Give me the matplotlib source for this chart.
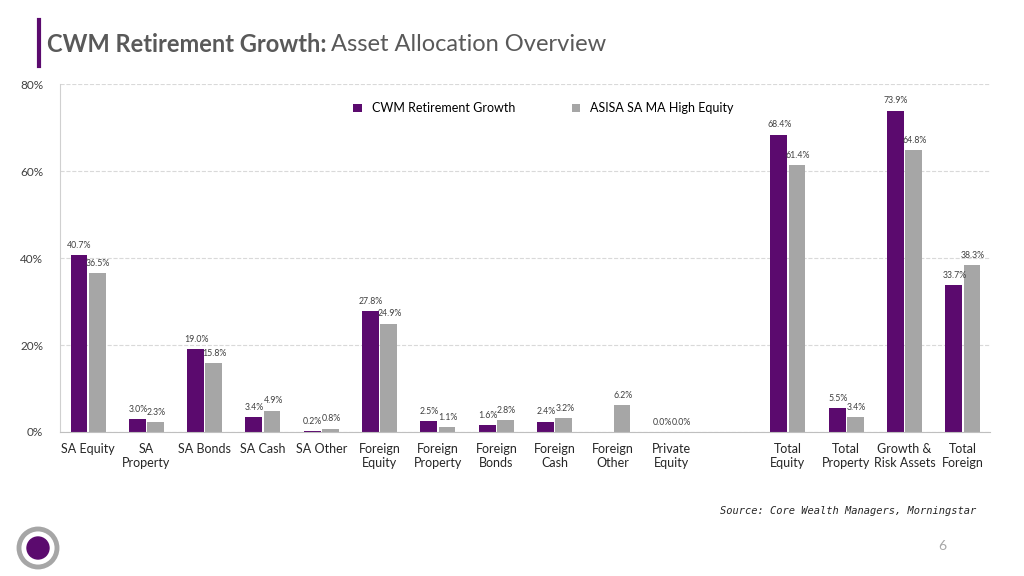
import matplotlib.pyplot as plt
import numpy as np
from matplotlib.patches import Circle

plt.rcParams['font.family'] = ['Lato', 'DejaVu Sans']

categories = ['SA Equity', 'SA\nProperty', 'SA Bonds', 'SA Cash', 'SA Other', 'Foreign\nEquity',
              'Foreign\nProperty', 'Foreign\nBonds', 'Foreign\nCash', 'Foreign\nOther', 'Private\nEquity',
              'Total\nEquity', 'Total\nProperty', 'Growth &\nRisk Assets', 'Total\nForeign']
cwm = [40.7, 3.0, 19.0, 3.4, 0.2, 27.8, 2.5, 1.6, 2.4, None, 0.0, 68.4, 5.5, 73.9, 33.7]
asisa = [36.5, 2.3, 15.8, 4.9, 0.8, 24.9, 1.1, 2.8, 3.2, 6.2, 0.0, 61.4, 3.4, 64.8, 38.3]
positions = list(range(11)) + [12, 13, 14, 15]

purple = '#5b0a6e'
grey = '#a6a6a6'

fig = plt.figure(figsize=(10.24, 5.76), dpi=100)
ax = fig.add_axes([0.0586, 0.25, 0.908, 0.604])

x = np.array(positions)
w = 0.29
cv = [v if v is not None else 0 for v in cwm]
ax.bar(x - w/2 - 0.01, cv, w, color=purple, label='CWM Retirement Growth')
ax.bar(x + w/2 + 0.01, asisa, w, color=grey, label='ASISA SA MA High Equity')

for xi, v in zip(x, cwm):
    if v is not None:
        ax.text(xi - w/2, v + 1.2, f'{v:.1f}%', ha='center', va='bottom', fontsize=6.3, color='#404040')
for xi, v in zip(x, asisa):
    ax.text(xi + w/2 + 0.03, v + 1.2, f'{v:.1f}%', ha='center', va='bottom', fontsize=6.3, color='#404040')

ax.set_xlim(-0.48, 15.46)
ax.set_ylim(0, 80)
ax.set_yticks([0, 20, 40, 60, 80])
ax.set_yticklabels(['0%', '20%', '40%', '60%', '80%'], fontsize=8.5, color='#404040')
ax.set_xticks(positions)
ax.set_xticklabels(categories, fontsize=9, color='#262626')
ax.tick_params(length=0, pad=8)
ax.tick_params(axis='y', pad=12)
ax.grid(axis='y', ls='--', color='#d9d9d9', lw=0.8)
ax.set_axisbelow(True)
for s in ['top', 'right']:
    ax.spines[s].set_visible(False)
ax.spines['left'].set_color('#d0d0d0')
ax.spines['bottom'].set_color('#bfbfbf')

ax.legend(loc='upper center', bbox_to_anchor=(0.52, 0.98), ncol=2, frameon=False,
          fontsize=9, handlelength=0.7, handleheight=0.7, columnspacing=4.5)

# title
fig.add_artist(plt.Line2D([0.038, 0.038], [0.885, 0.965], color=purple, lw=3))
t1 = fig.text(0.046, 0.922, 'CWM Retirement Growth:', fontsize=17, fontweight='bold',
              color='#595959', va='center')
fig.canvas.draw()
bb = t1.get_window_extent().transformed(fig.transFigure.inverted())
fig.text(bb.x1 + 0.004, 0.922, 'Asset Allocation Overview', fontsize=17, color='#595959', va='center')

fig.text(0.953, 0.108, 'Source: Core Wealth Managers, Morningstar', fontsize=7.5, style='italic',
         family='DejaVu Sans Mono', ha='right', color='#262626')
fig.text(0.92, 0.045, '6', fontsize=10, color='#a6a6a6', ha='center')

ax2 = fig.add_axes([0, 0, 1, 1], zorder=-1)
ax2.axis('off')
ax2.set_xlim(0, 1024); ax2.set_ylim(576, 0); ax2.set_aspect('equal')
ax2.add_patch(Circle((38, 548), 19, fill=False, ec=grey, lw=3.5))
ax2.add_patch(Circle((38, 548), 11, color=purple))

fig.savefig('out.png', dpi=100)
